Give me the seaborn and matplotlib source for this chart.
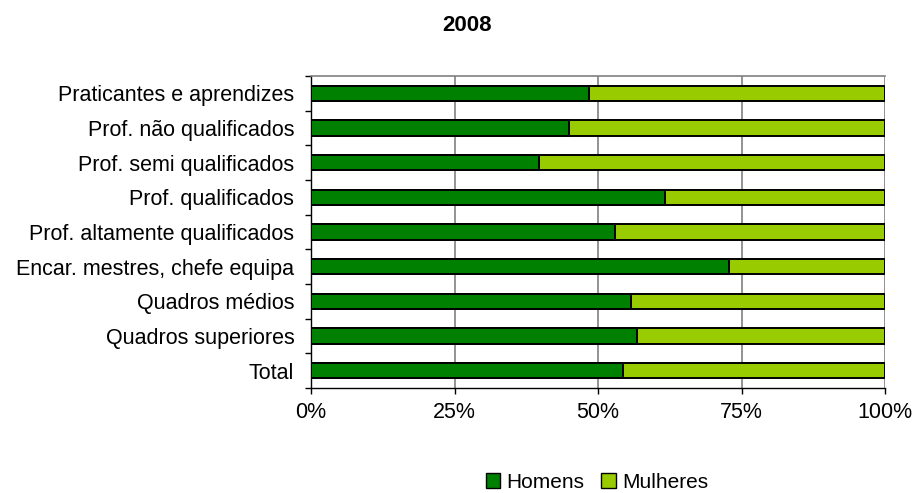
import numpy as np
import pandas as pd
import seaborn as sns
import matplotlib.pyplot as plt
from matplotlib.patches import Patch

# data (share of men, %)
categorias = ["Praticantes e aprendizes", "Prof. não qualificados", "Prof. semi qualificados",
              "Prof. qualificados", "Prof. altamente qualificados", "Encar. mestres, chefe equipa",
              "Quadros médios", "Quadros superiores", "Total"]
homens = [48.4, 44.9, 39.7, 61.7, 53.0, 72.8, 55.7, 56.8, 54.4]
mulheres = [100 - h for h in homens]

df = pd.DataFrame({"categoria": categorias, "Homens": homens, "Mulheres": mulheres})
df["total"] = df["Homens"] + df["Mulheres"]

cor_homens = "#008000"
cor_mulheres = "#99CC00"

sns.set_theme(style="white")
plt.rcParams['font.family'] = ['Liberation Sans', 'DejaVu Sans']
plt.rcParams['text.color'] = 'black'
plt.rcParams['xtick.color'] = 'black'
plt.rcParams['ytick.color'] = 'black'

fig = plt.figure(figsize=(9.15, 4.93), dpi=100)
ax = fig.add_axes([311 / 915, 1 - 388 / 493, 574 / 915, 312 / 493])

sns.barplot(data=df, x="total", y="categoria", orient="h", color=cor_mulheres,
            width=0.45, edgecolor="black", linewidth=1.4, saturation=1, ax=ax, zorder=3)
sns.barplot(data=df, x="Homens", y="categoria", orient="h", color=cor_homens,
            width=0.45, edgecolor="black", linewidth=1.4, saturation=1, ax=ax, zorder=4)

ax.set_xlim(0, 100)
ax.set_ylim(len(categorias) - 0.5, -0.5)
ax.set_xticks([0, 25, 50, 75, 100])
ax.set_xticklabels(["0%", "25%", "50%", "75%", "100%"])
ax.set_xlabel("")
ax.set_ylabel("")

# gridlines
for v in [25, 50, 75, 100]:
    ax.axvline(v, color="#808080", lw=1.2, zorder=1)

ax.spines["left"].set_color("black")
ax.spines["bottom"].set_color("black")
ax.spines["left"].set_linewidth(1)
ax.spines["bottom"].set_linewidth(1)
ax.spines["top"].set_color("#808080")
ax.spines["top"].set_linewidth(1.2)
ax.spines["right"].set_visible(False)

ax.tick_params(axis="y", which="major", length=0, pad=12, labelsize=15.5)
ax.set_yticks(np.arange(-0.5, len(categorias), 1), minor=True)
ax.tick_params(axis="y", which="minor", length=4, width=1, color="black", direction="out", left=True)
ax.tick_params(axis="x", length=4, width=1, color="black", direction="out", bottom=True, pad=6, labelsize=15.5)

fig.suptitle("2008", x=0.51, y=0.97, fontsize=16, fontweight="bold")

handles = [Patch(facecolor=cor_homens, edgecolor="black", label="Homens"),
           Patch(facecolor=cor_mulheres, edgecolor="black", label="Mulheres")]
fig.legend(handles=handles, loc="center", bbox_to_anchor=(597 / 915, 1 - 482 / 493), ncol=2,
           frameon=False, fontsize=15, handlelength=0.7, handleheight=0.7,
           handletextpad=0.3, columnspacing=0.8)

fig.savefig("out.png", dpi=100)
